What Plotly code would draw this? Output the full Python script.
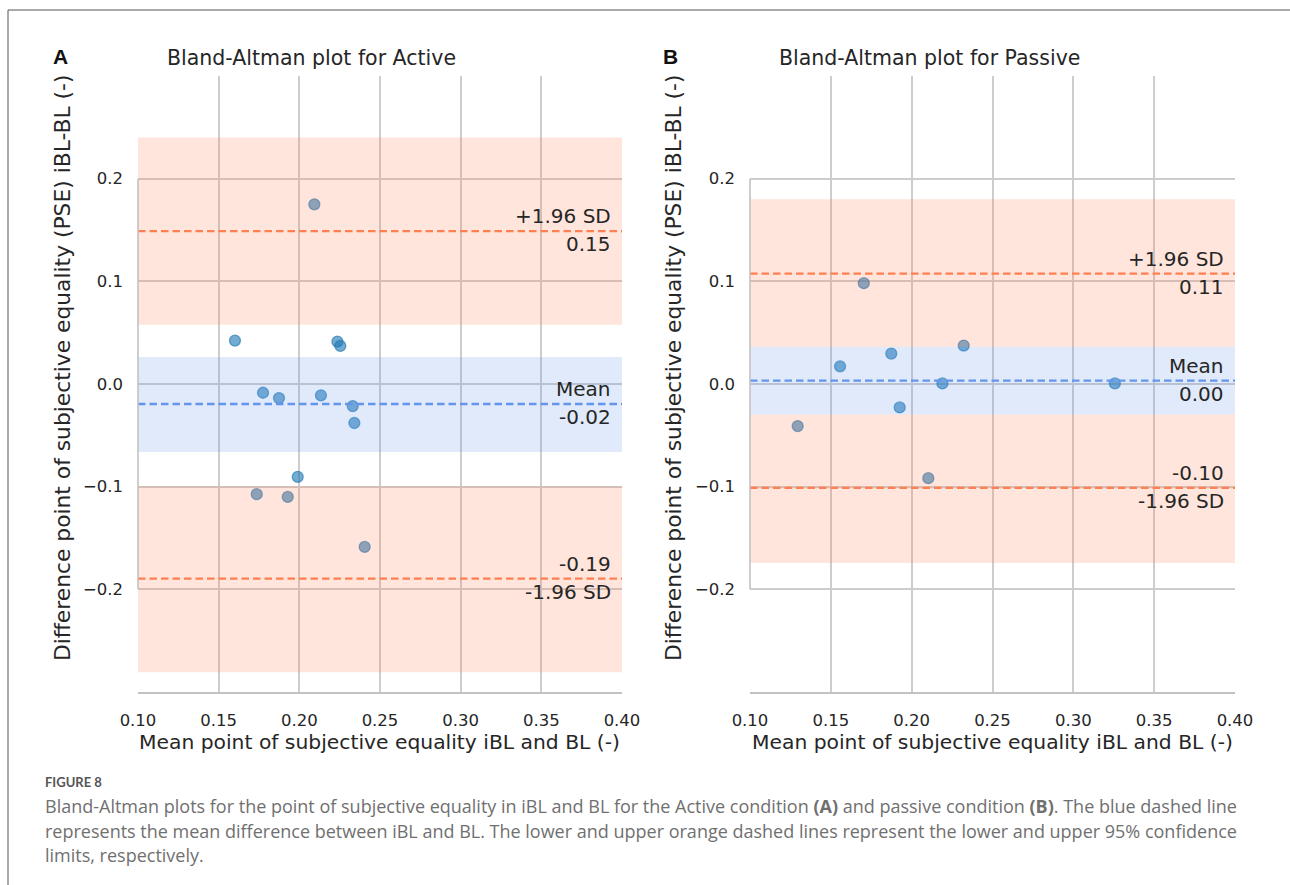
import plotly.graph_objects as go

# ---------------- data ----------------
active_mean_x = [0.2093, 0.1601, 0.2236, 0.2254, 0.1775, 0.1874, 0.2134, 0.2331, 0.2341, 0.1990, 0.1736, 0.1928, 0.2405]
active_diff_y = [0.1750, 0.0423, 0.0413, 0.0371, -0.0085, -0.0137, -0.0110, -0.0215, -0.0380, -0.0904, -0.1073, -0.1100, -0.1587]

passive_mean_x = [0.1704, 0.1557, 0.1874, 0.2322, 0.2190, 0.3257, 0.1926, 0.1295, 0.2103]
passive_diff_y = [0.0982, 0.0172, 0.0296, 0.0374, 0.0006, 0.0006, -0.0228, -0.0410, -0.0917]

# limits of agreement: upper (+1.96 SD), mean, lower (-1.96 SD)
active_limits = [0.149, -0.0195, -0.1896]
active_ci_low = [0.0576, -0.0663, -0.2807]
active_ci_high = [0.2400, 0.0263, -0.0995]

passive_limits = [0.1076, 0.0032, -0.1012]
passive_ci_low = [0.0364, -0.0296, -0.1743]
passive_ci_high = [0.1800, 0.0364, -0.0296]

limit_names = ["+1.96 SD", "Mean", "-1.96 SD"]

x_ticks = [0.10, 0.15, 0.20, 0.25, 0.30, 0.35, 0.40]
x_ticklabels = ["0.10", "0.15", "0.20", "0.25", "0.30", "0.35", "0.40"]
y_ticks = [-0.2, -0.1, 0.0, 0.1, 0.2]
y_ticklabels = ["\u22120.2", "\u22120.1", "0.0", "0.1", "0.2"]
x_range = [0.10, 0.40]
y_range = [-0.30, 0.30]

panel_titles = ["Bland-Altman plot for Active", "Bland-Altman plot for Passive"]
panel_letters = ["A", "B"]
x_title = "Mean point of subjective equality iBL and BL (-)"
y_title = "Difference point of subjective equality (PSE) iBL-BL (-)"

caption_head = "FIGURE 8"
caption_lines = [
    "Bland-Altman plots for the point of subjective equality in iBL and BL for the Active condition "
    "<b>(A)</b> and passive condition <b>(B)</b>. The blue dashed line",
    "represents the mean difference between iBL and BL. The lower and upper orange dashed lines represent "
    "the lower and upper 95% confidence",
    "limits, respectively.",
]

# ---------------- styling ----------------
W, H = 1290, 885
FONT = "DejaVu Sans"
TXT = "#262626"
GRID = "#cdcdcd"
POINT = "rgba(31,119,180,0.62)"
ORANGE = "#ff7f50"
ORANGE_FILL = "rgba(255,127,80,0.2)"
BLUE = "#6495ed"
BLUE_FILL = "rgba(100,149,237,0.2)"


def px_x(p):
    return p / W


def px_y(p):
    return 1 - p / H


panels = [
    dict(x=active_mean_x, y=active_diff_y, lim=active_limits, lo=active_ci_low, hi=active_ci_high,
         dom=[px_x(138), px_x(622)], xa="x", ya="y", title_x=311, letter_x=60, ylab_x=62),
    dict(x=passive_mean_x, y=passive_diff_y, lim=passive_limits, lo=passive_ci_low, hi=passive_ci_high,
         dom=[px_x(750), px_x(1235)], xa="x2", ya="y2", title_x=930, letter_x=670, ylab_x=673),
]
y_dom = [px_y(692), px_y(76)]

fig = go.Figure()
shapes = []
annotations = []

for i, p in enumerate(panels):
    fig.add_trace(go.Scatter(
        x=p["x"], y=p["y"], mode="markers", xaxis=p["xa"], yaxis=p["ya"],
        marker=dict(size=11, color=POINT, line=dict(color=POINT, width=1.3)),
        showlegend=False, hoverinfo="skip",
    ))
    xd = p["xa"] + " domain"
    # confidence bands (drawn above the points, as in the reference)
    for k in range(3):
        fill = BLUE_FILL if k == 1 else ORANGE_FILL
        shapes.append(dict(type="rect", xref=xd, yref=p["ya"], x0=0, x1=1,
                           y0=p["lo"][k], y1=p["hi"][k], fillcolor=fill,
                           line=dict(width=0), layer="above"))
    # limit lines
    for k in range(3):
        col = BLUE if k == 1 else ORANGE
        shapes.append(dict(type="line", xref=xd, yref=p["ya"], x0=0, x1=1,
                           y0=p["lim"][k], y1=p["lim"][k],
                           line=dict(color=col, width=2.3, dash="7.5px,4px"), layer="above"))
    # trimmed left spine
    shapes.append(dict(type="line", xref=xd, yref=p["ya"], x0=0, x1=0,
                       y0=min(y_ticks), y1=max(y_ticks),
                       line=dict(color="#c2c2c2", width=1.6), layer="above"))
    # limit labels
    for k in range(3):
        val_txt = f"{p['lim'][k]:.2f}"
        if k < 2:
            above, below = limit_names[k], val_txt
        else:
            above, below = val_txt, limit_names[k]
        annotations.append(dict(xref=xd, yref=p["ya"], x=1, y=p["lim"][k], xanchor="right",
                                yanchor="bottom", xshift=-9, yshift=1, text=above, showarrow=False,
                                font=dict(family=FONT, size=20, color=TXT)))
        annotations.append(dict(xref=xd, yref=p["ya"], x=1, y=p["lim"][k], xanchor="right",
                                yanchor="top", xshift=-9, yshift=1, text=below, showarrow=False,
                                font=dict(family=FONT, size=20, color=TXT)))
    # titles & labels
    annotations.append(dict(xref="paper", yref="paper", x=px_x(p["title_x"]), y=px_y(58),
                            xanchor="center", yanchor="middle", text=panel_titles[i], showarrow=False,
                            font=dict(family=FONT, size=20.5, color=TXT)))
    annotations.append(dict(xref="paper", yref="paper", x=px_x(p["letter_x"]), y=px_y(57),
                            xanchor="center", yanchor="middle", text="<b>" + panel_letters[i] + "</b>",
                            showarrow=False, font=dict(family="Liberation Sans", size=21, color="#111111")))
    annotations.append(dict(xref="paper", yref="paper", x=(p["dom"][0] + p["dom"][1]) / 2, y=px_y(742),
                            xanchor="center", yanchor="middle", text=x_title, showarrow=False,
                            font=dict(family=FONT, size=20.3, color=TXT)))
    annotations.append(dict(xref="paper", yref="paper", x=px_x(p["ylab_x"]), y=px_y(368),
                            xanchor="center", yanchor="middle", text=y_title, textangle=-90,
                            showarrow=False, font=dict(family=FONT, size=21.8, color=TXT)))

# caption
annotations.append(dict(xref="paper", yref="paper", x=px_x(43), y=px_y(782), xanchor="left",
                        yanchor="middle", text=caption_head, showarrow=False,
                        font=dict(family="Lato", size=13, color="#555555", weight="bold")))
for j, line in enumerate(caption_lines):
    annotations.append(dict(xref="paper", yref="paper", x=px_x(43), y=px_y(806 + 24.5 * j),
                            xanchor="left", yanchor="middle", text=line, showarrow=False, align="left",
                            font=dict(family="Open Sans", size=18, color="#707070")))

# outer frame
shapes.append(dict(type="line", xref="paper", yref="paper", x0=px_x(8), x1=1, y0=px_y(10), y1=px_y(10),
                   line=dict(color="#555555", width=1)))
shapes.append(dict(type="line", xref="paper", yref="paper", x0=px_x(8), x1=px_x(8), y0=px_y(10), y1=0,
                   line=dict(color="#555555", width=1)))

axis_common = dict(range=x_range, tickvals=x_ticks, ticktext=x_ticklabels, showgrid=True, gridcolor=GRID,
                   gridwidth=1.5, zeroline=False, showline=True, linecolor="#c2c2c2", linewidth=1.6,
                   ticks="", ticklabelstandoff=12, automargin=False,
                   tickfont=dict(family=FONT, size=16.5, color=TXT))
yaxis_common = dict(range=y_range, tickvals=y_ticks, ticktext=y_ticklabels, showgrid=True, gridcolor=GRID,
                    gridwidth=1.5, zeroline=False, showline=False, ticks="", ticklabelstandoff=14,
                    automargin=False, tickfont=dict(family=FONT, size=16.5, color=TXT), domain=y_dom)

fig.update_layout(
    template="none",
    width=W, height=H, autosize=False,
    margin=dict(l=0, r=0, t=0, b=0, pad=0, autoexpand=False),
    paper_bgcolor="white", plot_bgcolor="white",
    xaxis=dict(axis_common, domain=panels[0]["dom"], anchor="y"),
    yaxis=dict(yaxis_common, anchor="x"),
    xaxis2=dict(axis_common, domain=panels[1]["dom"], anchor="y2"),
    yaxis2=dict(yaxis_common, anchor="x2"),
    shapes=shapes, annotations=annotations,
    showlegend=False,
)

fig.write_html("out.html", config={"displayModeBar": False},
               post_script="document.body.style.margin='0';document.body.style.overflow='hidden';")
